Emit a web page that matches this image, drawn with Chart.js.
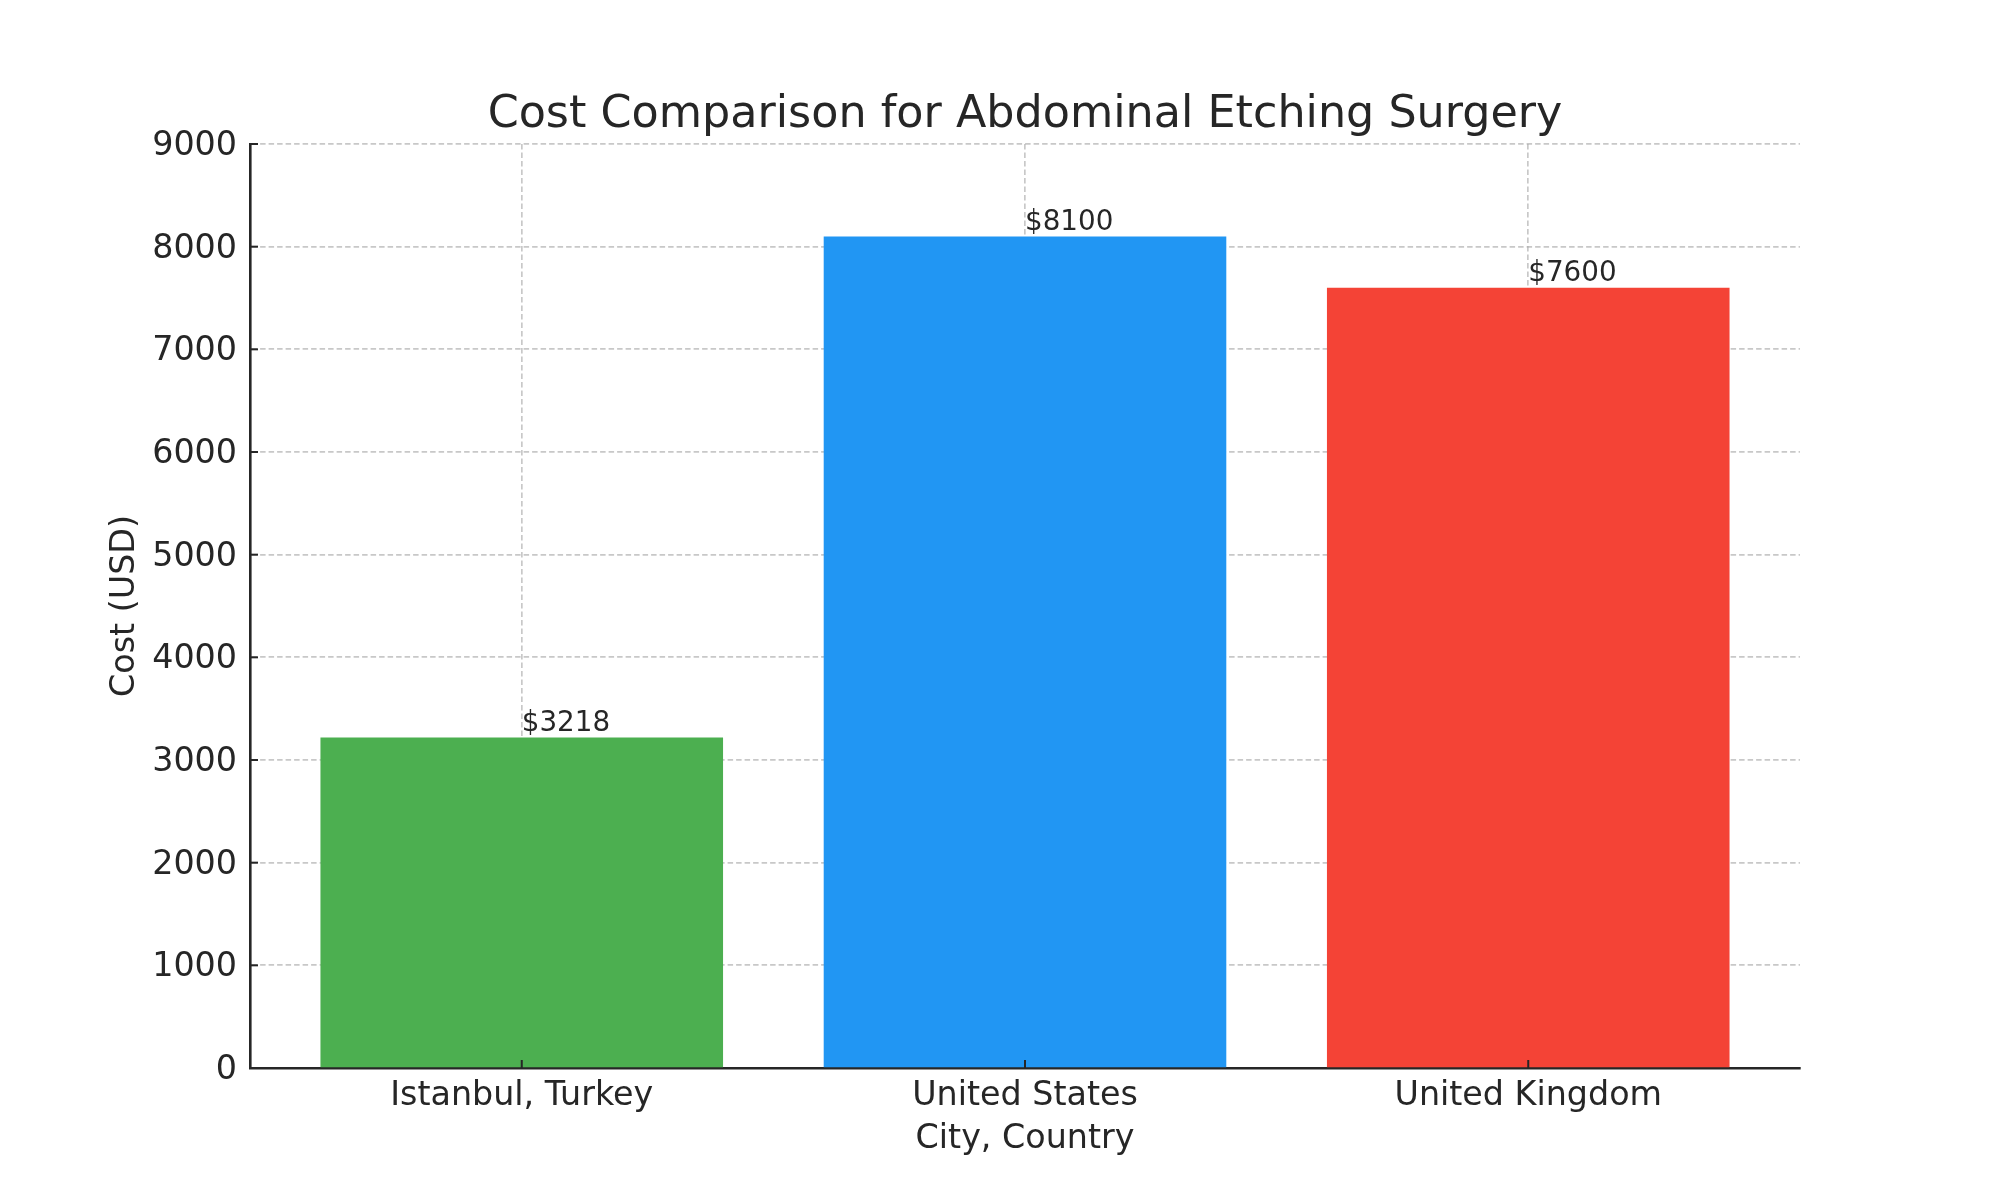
<!DOCTYPE html>
<html>
<head>
<meta charset="utf-8">
<script src="https://cdn.jsdelivr.net/npm/chart.js@4"></script>
<style>
  html, body { margin: 0; padding: 0; background: #ffffff; }
  #wrap { width: 2000px; height: 1200px; }
</style>
</head>
<body>
<div id="wrap"><canvas id="c" width="2000" height="1200"></canvas></div>
<script>
// ---- data ----
const categories = ["Istanbul, Turkey", "United States", "United Kingdom"];
const costs = [3218, 8100, 7600];
const barColors = ["#4CAF50", "#2196F3", "#F44336"];
const yTicks = [0, 1000, 2000, 3000, 4000, 5000, 6000, 7000, 8000, 9000];
const titleText = "Cost Comparison for Abdominal Etching Surgery";
const xLabel = "City, Country";
const yLabel = "Cost (USD)";

const FONT = "'DejaVu Sans', 'Liberation Sans', sans-serif";
const TXT = "#262626";
const GRID = "rgba(170,170,170,0.65)";

const overlay = {
  id: "overlay",
  afterDraw(chart) {
    const ctx = chart.ctx;
    const area = chart.chartArea;
    const xs = chart.scales.x, ys = chart.scales.y;
    ctx.save();
    // inward ticks
    ctx.strokeStyle = TXT;
    ctx.lineWidth = 2;
    yTicks.forEach(v => {
      const py = ys.getPixelForValue(v);
      ctx.beginPath(); ctx.moveTo(area.left, py); ctx.lineTo(area.left + 8, py); ctx.stroke();
    });
    categories.forEach((c, i) => {
      const px = xs.getPixelForValue(i);
      ctx.beginPath(); ctx.moveTo(px, area.bottom); ctx.lineTo(px, area.bottom - 8); ctx.stroke();
    });
    // bar value labels
    ctx.fillStyle = TXT;
    ctx.font = "27.78px " + FONT;
    ctx.textAlign = "left";
    ctx.textBaseline = "alphabetic";
    const meta = chart.getDatasetMeta(0);
    meta.data.forEach((bar, i) => {
      ctx.fillText("$" + costs[i], bar.x, bar.y - 6.5);
    });
    // title
    ctx.font = "44.44px " + FONT;
    ctx.textAlign = "center";
    ctx.fillText(titleText, (area.left + area.right) / 2, 127);
    ctx.restore();
  }
};

new Chart(document.getElementById("c"), {
  type: "bar",
  data: {
    datasets: [{
      data: costs.map((v, i) => ({ x: i, y: v })),
      backgroundColor: barColors,
      borderWidth: 0,
      barPercentage: 0.8,
      categoryPercentage: 1.0
    }]
  },
  options: {
    responsive: false,
    devicePixelRatio: 1,
    animation: false,
    events: [],
    layout: { padding: { left: 0, top: 144, right: 200, bottom: 0 } },
    plugins: { legend: { display: false }, title: { display: false }, tooltip: { enabled: false } },
    scales: {
      x: {
        type: "linear",
        offset: false,
        min: -0.54, max: 2.54,
        z: 1,
        afterBuildTicks: (s) => { s.ticks = categories.map((_, i) => ({ value: i })); },
        afterFit: (s) => { s.height = 132; },
        ticks: {
          autoSkip: false, maxRotation: 0, minRotation: 0,
          padding: 8.5,
          color: TXT,
          font: { family: FONT, size: 33.33 },
          callback: (v) => categories[v]
        },
        grid: { offset: false, color: GRID, lineWidth: 1.7, drawTicks: false },
        border: { display: true, color: TXT, width: 2.6, dash: [5.5, 3] },
        title: {
          display: true, text: xLabel, color: TXT,
          font: { family: FONT, size: 33.33 },
          padding: { top: 0, bottom: 40.5 }
        }
      },
      y: {
        type: "linear",
        min: 0, max: 9000,
        z: 1,
        afterBuildTicks: (s) => { s.ticks = yTicks.map(v => ({ value: v })); },
        afterFit: (s) => { s.width = 250; },
        ticks: {
          padding: 13,
          color: TXT,
          font: { family: FONT, size: 33.33, lineHeight: 0.15 },
          callback: (v) => ["", String(v)]
        },
        grid: { color: GRID, lineWidth: 1.7, drawTicks: false },
        border: { display: true, color: TXT, width: 2.6, dash: [5.5, 3] },
        title: {
          display: true, text: yLabel, color: TXT,
          font: { family: FONT, size: 33.33 },
          padding: { top: 105, bottom: 0 }
        }
      }
    }
  },
  plugins: [overlay]
});
</script>
</body>
</html>
